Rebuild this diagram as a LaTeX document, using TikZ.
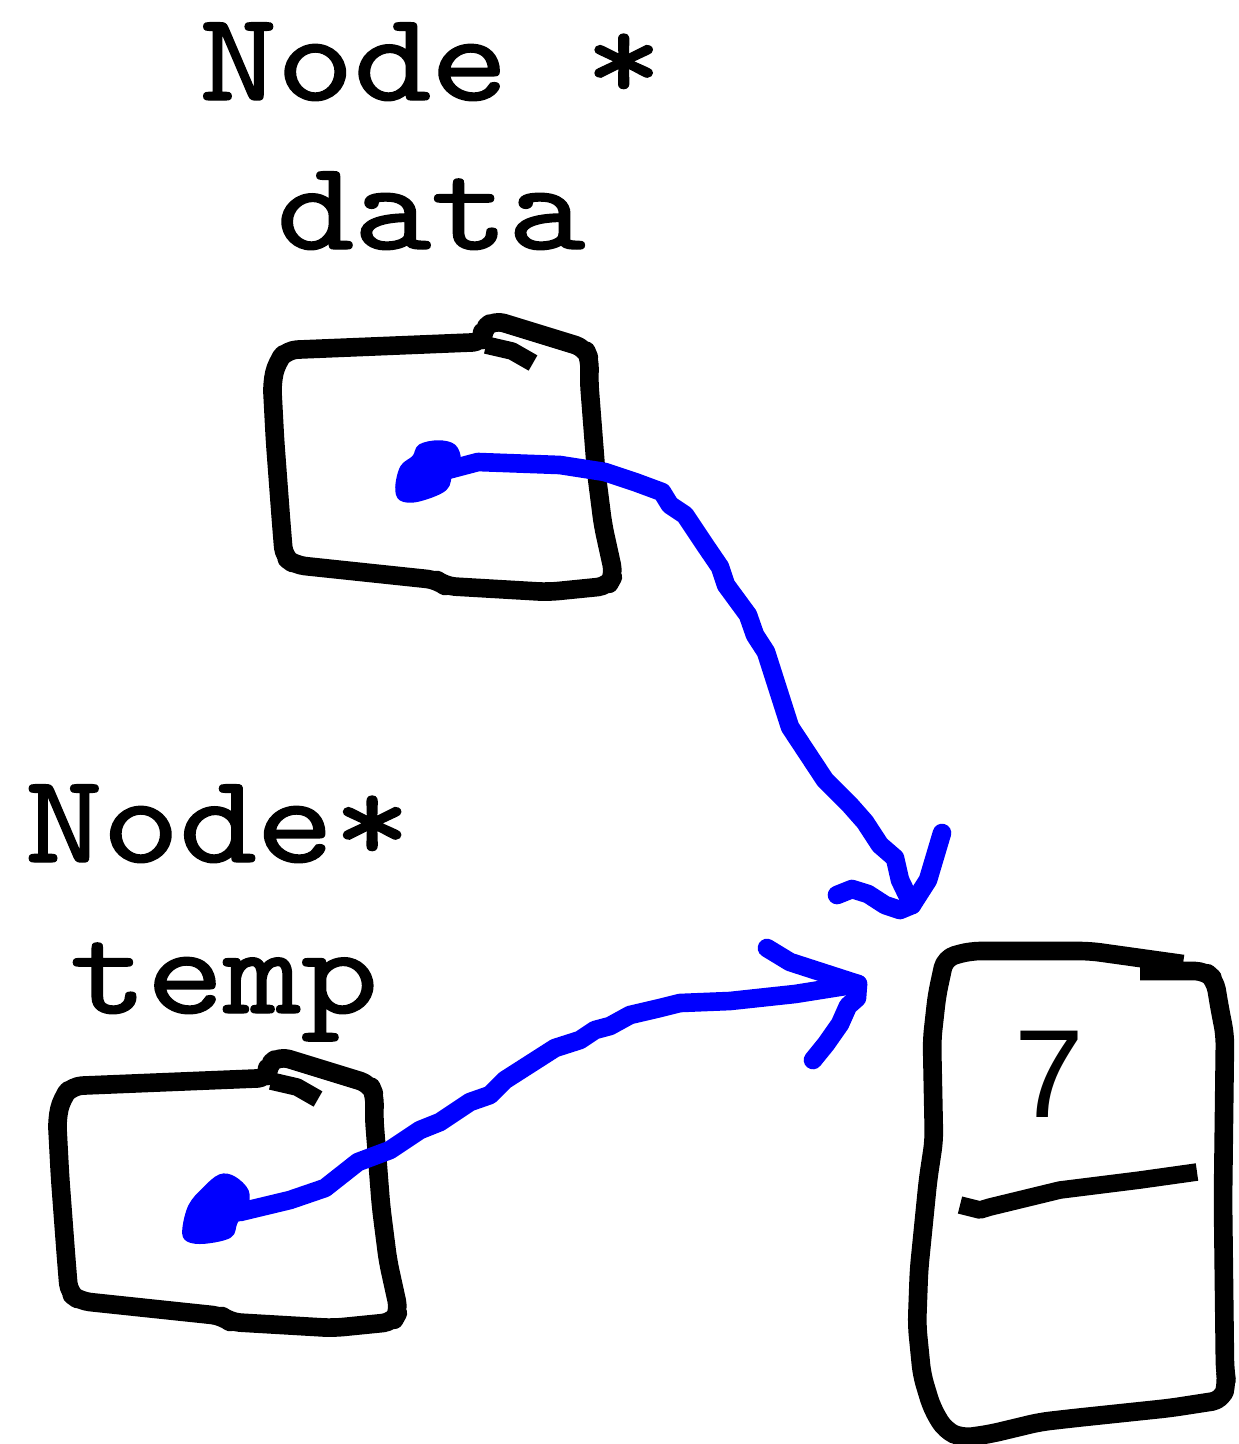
\documentclass[tikz,border=0pt]{standalone}
\usepackage{graphicx}
\usepackage{fontspec}
\setmainfont{Liberation Sans}
\newfontfamily\codefont[FakeBold=1.1]{lmmono10-regular.otf}
\definecolor{penblue}{RGB}{0,0,255}
\newcommand{\codetext}[1]{\scalebox{1.16}[1]{#1}}
\begin{document}
\begin{tikzpicture}[x=0.01cm,y=-0.01cm,
  boxline/.style={line width=5.3pt,black,line join=round,rounded corners=1mm},
  tabline/.style={line width=5pt,black,line join=round},
  ptrline/.style={line width=5.3pt,penblue,line cap=round,line join=round},
  blobfill/.style={fill=penblue,draw=penblue,line width=1pt,line join=round},
  lbl/.style={font=\codefont\fontsize{36}{43}\selectfont,inner sep=0pt,anchor=base},
  digit/.style={font=\fontsize{35.7}{40}\selectfont,inner sep=0pt,anchor=base},
  cellbox/.pic={
    \draw[boxline] (483,342) -- (482,330) -- (494,320) -- (585,348) -- (590,360) -- (589,380)
      -- (596,470) -- (603,525) -- (614,575) -- (608,586) -- (548,592) -- (445,586)
      -- (437,580) -- (295,565) -- (284,557) -- (281,520) -- (275,440) -- (272,383)
      -- (277,362) -- (287,350) -- cycle;
    \draw[tabline] (486,345) -- (512,351) -- (533,363);
  }]
\path[use as bounding box] (0,0) rectangle (1239,1444);

% labels
\node[lbl] (ptrAname) at (431,100) {\codetext{Node *}};
\node[lbl] (ptrAvar) at (431,249) {\codetext{data}};
\node[lbl] (ptrBname) at (218,862) {\codetext{Node*}};
\node[lbl] (ptrBvar) at (224,1013) {\codetext{temp}};

% pointer boxes
\pic (boxA) at (0,0) {cellbox};
\pic (boxB) at (-215,736) {cellbox};

% list node box
\draw[boxline] (1140,971) -- (1205,971) -- (1215,980) -- (1220,1010) -- (1225,1035)
  -- (1223,1200) -- (1225,1370) -- (1227,1383) -- (1222,1400) -- (1170,1408)
  -- (1075,1418) -- (1040,1422) -- (990,1434) -- (962,1438) -- (945,1430)
  -- (932,1408) -- (922,1375) -- (917,1325) -- (919,1270) -- (928,1180)
  -- (934,1140) -- (932,1040) -- (937,995) -- (945,958) -- (970,951)
  -- (1090,951) -- (1183,964);
\draw[tabline] (960,1205) -- (980,1210) -- (990,1207) -- (1060,1190) -- (1140,1180) -- (1197,1172);
\node[digit] (val) at (1049,1117) {7};

% named ends
\coordinate (blobA) at (425,472);
\coordinate (tipA) at (912,905);
\coordinate (blobB) at (215,1210);
\coordinate (tipB) at (858,984);

% blobs
\fill[blobfill] plot[smooth cycle,tension=0.6] coordinates {(397,487) (402,467) (414,457) (420,446) (438,442) (454,446) (459,460) (451,472) (445,489) (418,500) (401,499)};
\fill[blobfill] plot[smooth cycle,tension=0.6] coordinates {(184,1230) (190,1206) (204,1189) (220,1176) (234,1178) (247,1191) (246,1207) (236,1222) (230,1236) (205,1242) (188,1240)};

% pointer arrows
\draw[ptrline] (blobA) -- (440,472) -- (478,462) -- (560,465) -- (605,472) -- (635,482) -- (662,492)
  -- (670,505) -- (685,515) -- (705,545) -- (720,567) -- (726,585) -- (748,615) -- (755,635)
  -- (766,652) -- (790,727) -- (825,780) -- (850,805) -- (865,822) -- (880,845) -- (895,858)
  -- (900,880) -- (tipA);
\draw[ptrline] (837,895) -- (852,889) -- (868,894) -- (885,905) -- (900,910) -- (tipA) -- (928,880) -- (942,833);

\draw[ptrline] (blobB) -- (240,1212) -- (290,1200) -- (325,1188) -- (358,1162) -- (390,1150) -- (420,1130)
  -- (440,1122) -- (470,1102) -- (490,1095) -- (505,1080) -- (555,1048) -- (580,1040) -- (595,1030)
  -- (610,1026) -- (630,1015) -- (660,1008) -- (680,1003) -- (730,1001) -- (795,994) -- (tipB);
\draw[ptrline] (767,948) -- (790,962) -- (tipB) -- (857,998) -- (848,1006) -- (840,1024) -- (826,1044) -- (813,1060);
\end{tikzpicture}
\end{document}
